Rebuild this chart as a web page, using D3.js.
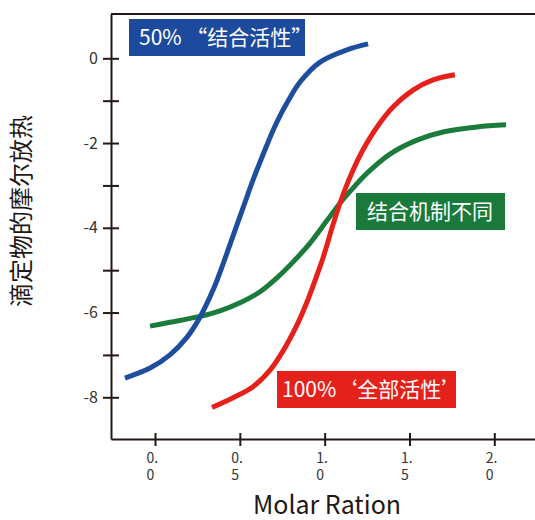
<!DOCTYPE html>
<html><head><meta charset="utf-8">
<script src="https://cdn.jsdelivr.net/npm/d3@7/dist/d3.min.js"></script>
<style>
html,body{margin:0;padding:0;background:#fff;}
svg{display:block;font-family:"Noto Sans CJK SC","Noto Sans",sans-serif;}
</style></head>
<body>
<svg id="chart" width="535" height="520"></svg>
<script>
// ---- data ----
const blueX = [-0.177,-0.029,0.088,0.189,0.265,0.342,0.401,0.460,0.519,0.578,0.643,0.713,0.784,0.855,0.973,1.132,1.256];
const blueY = [-7.545,-7.31,-7.00,-6.58,-6.11,-5.47,-4.855,-4.19,-3.53,-2.87,-2.21,-1.55,-1.01,-0.56,-0.09,0.20,0.34];
const redX = [0.336,0.460,0.578,0.678,0.754,0.837,0.896,0.949,0.996,1.049,1.108,1.167,1.226,1.309,1.403,1.521,1.639,1.768];
const redY = [-8.24,-8.01,-7.75,-7.36,-6.91,-6.29,-5.75,-5.18,-4.64,-3.93,-3.22,-2.64,-2.16,-1.62,-1.15,-0.75,-0.51,-0.39];
const greenX = [-0.029,0.088,0.265,0.383,0.501,0.619,0.719,0.813,0.914,1.008,1.096,1.179,1.250,1.385,1.544,1.698,1.898,2.069];
const greenY = [-6.32,-6.23,-6.09,-5.96,-5.77,-5.51,-5.18,-4.81,-4.36,-3.86,-3.39,-3.01,-2.71,-2.26,-1.93,-1.74,-1.62,-1.57];
const xTicks = [0, 0.5, 1.0, 1.5, 2.0];
const xTickLabels = [["0.","0"],["0.","5"],["1.","0"],["1.","5"],["2.","0"]];
const yTicks = [0,-1,-2,-3,-4,-5,-6,-7,-8];
const yTickLabels = ["0","","-2","","-4","","-6","","-8"];
const seriesNames = ["50%\u00a0\u201c结合活性\u201d", "100%\u2018全部活性\u2019", "结合机制不同"];
const xTitle = "Molar Ration";
const yTitle = "滴定物的摩尔放热";

// ---- layout ----
const pLeft = 111, pRight = 535, pTop = 14, pBottom = 439;
const x = d3.scaleLinear().domain([0, 2]).range([155, 494.3]);
const y = d3.scaleLinear().domain([0, -8]).range([58.3, 397.3]);
const axisColor = "#231815";
const colors = {blue:"#1f4d9e", red:"#e6211b", green:"#1b7b3b"};

const svg = d3.select("#chart");

// curves
const line = d3.line().x(d => x(d[0])).y(d => y(d[1])).curve(d3.curveCatmullRom.alpha(0.5));
const series = [
  {c: colors.green, xs: greenX, ys: greenY},
  {c: colors.red, xs: redX, ys: redY},
  {c: colors.blue, xs: blueX, ys: blueY}
];
series.forEach(s => {
  svg.append("path")
    .datum(s.xs.map((v,i) => [v, s.ys[i]]))
    .attr("d", line)
    .attr("fill", "none")
    .attr("stroke", s.c)
    .attr("stroke-width", 5);
});

// top spine
svg.append("line").attr("x1", pLeft).attr("x2", pRight).attr("y1", pTop).attr("y2", pTop)
  .attr("stroke", axisColor).attr("stroke-width", 2);

// y axis
const yAxisScale = y.copy().domain([y.invert(pTop), y.invert(pBottom)]).range([pTop, pBottom]);
const gy = svg.append("g").attr("transform", `translate(${pLeft},0)`)
  .call(d3.axisLeft(yAxisScale).tickValues(yTicks).tickSize(8).tickSizeOuter(0).tickPadding(5)
    .tickFormat((d,i) => yTickLabels[i]));
gy.select(".domain").attr("stroke", axisColor).attr("stroke-width", 2);
gy.selectAll(".tick line").attr("x1", 8).attr("stroke", axisColor).attr("stroke-width", 2);
gy.selectAll(".tick text").attr("fill", "#333").attr("font-size", 16)
  .attr("font-family", "'Noto Sans CJK SC', sans-serif");

// x axis
const xAxisScale = x.copy().domain([x.invert(pLeft), x.invert(pRight)]).range([pLeft, pRight]);
const gx = svg.append("g").attr("transform", `translate(0,${pBottom})`)
  .call(d3.axisBottom(xAxisScale).tickValues(xTicks).tickSize(7).tickSizeOuter(0).tickFormat(""));
gx.select(".domain").attr("stroke", axisColor).attr("stroke-width", 2);
gx.selectAll(".tick line").attr("y1", -6).attr("stroke", axisColor).attr("stroke-width", 2);
gx.selectAll(".tick").each(function(d, i) {
  const t = d3.select(this).append("text")
    .attr("fill", "#333").attr("font-size", 14).attr("text-anchor", "start")
    .attr("font-family", "'Noto Sans CJK SC', sans-serif");
  t.append("tspan").attr("x", -9).attr("y", 24).text(xTickLabels[i][0]);
  t.append("tspan").attr("x", -9).attr("y", 41).text(xTickLabels[i][1]);
});

// titles
svg.append("text").attr("x", 327).attr("y", 514).attr("text-anchor", "middle")
  .attr("font-size", 25).attr("fill", "#231815").text(xTitle);
svg.append("text").attr("transform", "translate(30,211) rotate(-90)")
  .attr("text-anchor", "middle").attr("font-size", 24).attr("fill", "#231815").text(yTitle);

// label boxes
const boxes = [
  {x0:129, y0:19, w:176, h:37, c:"#1c4a9c", tx:139, t:seriesNames[0]},
  {x0:277, y0:371, w:179, h:37, c:"#e5211b", tx:282, t:seriesNames[1]},
  {x0:356, y0:193, w:149, h:37, c:"#1a7a3b", tx:367, t:seriesNames[2]}
];
boxes.forEach(b => {
  svg.append("rect").attr("x", b.x0).attr("y", b.y0).attr("width", b.w).attr("height", b.h).attr("fill", b.c);
  svg.append("text").attr("x", b.tx).attr("y", b.y0 + b.h/2 + 7.5)
    .attr("font-size", 21).attr("fill", "#fff").text(b.t);
});
</script>
</body></html>
